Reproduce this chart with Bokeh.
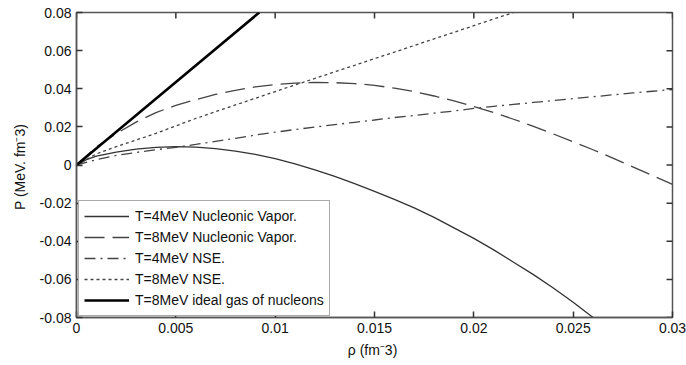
import math
from bokeh.plotting import figure
from bokeh.models import Range1d, FixedTicker, Legend, LegendItem
from bokeh.embed import file_html
from bokeh.resources import INLINE

# ---- data ----
rho_vap4 = [0, 0.0005, 0.001, 0.002, 0.003, 0.004, 0.005, 0.006, 0.007, 0.008, 0.009, 0.010,
            0.011, 0.012, 0.013, 0.014, 0.015, 0.016, 0.017, 0.018, 0.019, 0.020, 0.021,
            0.022, 0.023, 0.024, 0.025, 0.026]
P_vap4 = [0, 0.0028, 0.0046, 0.0068, 0.0083, 0.0092, 0.0096, 0.0094, 0.0086, 0.0073, 0.0056,
          0.0033, 0.0006, -0.0026, -0.0060, -0.0098, -0.0138, -0.0180, -0.0225, -0.0275,
          -0.0330, -0.0385, -0.0445, -0.0510, -0.0575, -0.0645, -0.0720, -0.0800]

rho_vap8 = [0, 0.001, 0.002, 0.003, 0.004, 0.005, 0.006, 0.007, 0.008, 0.009, 0.010, 0.011,
            0.012, 0.013, 0.014, 0.015, 0.016, 0.017, 0.018, 0.019, 0.020, 0.021, 0.022,
            0.023, 0.024, 0.025, 0.026, 0.027, 0.028, 0.029, 0.030]
P_vap8 = [0, 0.0095, 0.0165, 0.0225, 0.0275, 0.0313, 0.0343, 0.0370, 0.0392, 0.0410, 0.0422,
          0.0430, 0.0433, 0.0432, 0.0427, 0.0418, 0.0403, 0.0385, 0.0362, 0.0336, 0.0307,
          0.0275, 0.0240, 0.0203, 0.0163, 0.0122, 0.0080, 0.0036, -0.0010, -0.0056, -0.0102]

rho_nse4 = [0, 0.001, 0.002, 0.003, 0.004, 0.005, 0.006, 0.007, 0.008, 0.009, 0.010, 0.011,
            0.012, 0.013, 0.014, 0.015, 0.016, 0.017, 0.018, 0.019, 0.020, 0.021, 0.022,
            0.023, 0.024, 0.025, 0.026, 0.027, 0.028, 0.029, 0.030]
P_nse4 = [0, 0.0028, 0.0050, 0.0066, 0.0080, 0.0093, 0.0108, 0.0124, 0.0140, 0.0157, 0.0172,
          0.0186, 0.0199, 0.0212, 0.0224, 0.0236, 0.0249, 0.0260, 0.0272, 0.0283, 0.0297,
          0.0308, 0.0318, 0.0328, 0.0338, 0.0348, 0.0358, 0.0368, 0.0378, 0.0387, 0.0396]

rho_nse8 = [0, 0.001, 0.002, 0.003, 0.004, 0.005, 0.006, 0.007, 0.008, 0.009, 0.010, 0.011,
            0.012, 0.013, 0.014, 0.015, 0.016, 0.017, 0.018, 0.019, 0.020, 0.021, 0.022]
P_nse8 = [0, 0.0058, 0.0096, 0.0131, 0.0166, 0.0205, 0.0244, 0.0280, 0.0315, 0.0350, 0.0385,
          0.0420, 0.0454, 0.0489, 0.0523, 0.0558, 0.0592, 0.0627, 0.0662, 0.0696, 0.0731,
          0.0766, 0.0800]

rho_ideal = [0, 0.0046, 0.0092]
P_ideal = [0, 0.0400, 0.0800]

x_ticks = [0, 0.005, 0.01, 0.015, 0.02, 0.025, 0.03]
x_tick_labels = ["0", "0.005", "0.01", "0.015", "0.02", "0.025", "0.03"]
y_ticks = [-0.08, -0.06, -0.04, -0.02, 0, 0.02, 0.04, 0.06, 0.08]
y_tick_labels = ["-0.08", "-0.06", "-0.04", "-0.02", "0", "0.02", "0.04", "0.06", "0.08"]

labels = ["T=4MeV Nucleonic Vapor.", "T=8MeV Nucleonic Vapor.", "T=4MeV NSE.",
          "T=8MeV NSE.", "T=8MeV ideal gas of nucleons"]

FONT = "Liberation Sans"
AX = "#555555"
TICK = "#333333"
TXT = "#111111"

x_min, x_max = 0, 0.03
y_min, y_max = -0.08, 0.08

p = figure(width=686, height=365, output_backend="svg", toolbar_location=None,
           x_range=Range1d(x_min, x_max), y_range=Range1d(y_min, y_max),
           min_border_left=76, min_border_right=14, min_border_top=12, min_border_bottom=48)
p.xgrid.visible = False
p.ygrid.visible = False
p.outline_line_color = AX
p.outline_line_width = 1.5
p.background_fill_color = "white"
p.border_fill_color = "white"

r1 = p.line(rho_vap4, P_vap4, line_color="#333333", line_width=1.3)
r2 = p.line(rho_vap8, P_vap8, line_color="#444444", line_width=1.3, line_dash="20 8")
r3 = p.line(rho_nse4, P_nse4, line_color="#444444", line_width=1.3, line_dash="11 5 2 5")
r4 = p.line(rho_nse8, P_nse8, line_color="#444444", line_width=1.3, line_dash="3 3")
r5 = p.line(rho_ideal, P_ideal, line_color="#000000", line_width=2.6)

# inward ticks on the top and right edges of the box
p.ray(x=x_ticks, y=[y_max] * len(x_ticks), length=6, length_units="screen",
      angle=-math.pi / 2, line_color=TICK, line_width=1.5)
p.ray(x=[x_max] * len(y_ticks), y=y_ticks, length=6, length_units="screen",
      angle=math.pi, line_color=TICK, line_width=1.5)

def style_axis(ax, ticks, tick_labels):
    ax.ticker = FixedTicker(ticks=ticks)
    ax.major_label_overrides = {t: l for t, l in zip(ticks, tick_labels)}
    ax.major_tick_in = 6
    ax.major_tick_out = 0
    ax.minor_tick_in = 0
    ax.minor_tick_out = 0
    ax.axis_line_color = AX
    ax.axis_line_width = 1.5
    ax.major_tick_line_color = TICK
    ax.major_tick_line_width = 1.5
    ax.major_label_text_font = FONT
    ax.major_label_text_font_size = "14px"
    ax.major_label_text_color = TXT
    ax.major_label_standoff = 5
    ax.axis_label_text_font = FONT
    ax.axis_label_text_font_size = "14px"
    ax.axis_label_text_font_style = "normal"
    ax.axis_label_text_color = TXT

xa = p.xaxis[0]
style_axis(xa, x_ticks, x_tick_labels)
xa.axis_label = "ρ  (fm⁻3)"
xa.axis_label_standoff = 6

ya = p.yaxis[0]
style_axis(ya, y_ticks, y_tick_labels)
ya.axis_label = "P  (MeV. fm⁻3)"
ya.axis_label_standoff = 9

legend = Legend(items=[LegendItem(label=labels[0], renderers=[r1]),
                       LegendItem(label=labels[1], renderers=[r2]),
                       LegendItem(label=labels[2], renderers=[r3]),
                       LegendItem(label=labels[3], renderers=[r4]),
                       LegendItem(label=labels[4], renderers=[r5])],
                location=(2, 1))
legend.label_text_font = FONT
legend.label_text_font_size = "14px"
legend.label_text_color = TXT
legend.glyph_width = 45
legend.glyph_height = 20
legend.label_height = 20
legend.label_standoff = 6
legend.spacing = 1
legend.padding = 5
legend.margin = 0
legend.border_line_color = AX
legend.border_line_width = 1.2
legend.background_fill_color = "white"
legend.background_fill_alpha = 1.0
p.add_layout(legend, "center")

open("out.html", "w").write(file_html(p, INLINE))
